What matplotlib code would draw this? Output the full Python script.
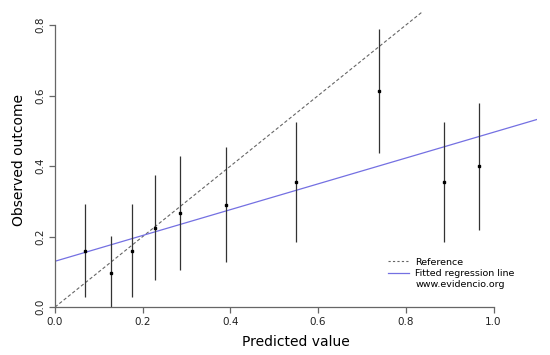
import matplotlib
matplotlib.use("Agg")
import matplotlib.pyplot as plt
import numpy as np
from matplotlib.lines import Line2D

# grouped calibration data
predicted = [0.068, 0.128, 0.175, 0.229, 0.285, 0.390, 0.549, 0.739, 0.886, 0.967]
observed = [0.160, 0.096, 0.160, 0.225, 0.266, 0.289, 0.355, 0.614, 0.355, 0.400]
ci_low = [0.028, 0.000, 0.028, 0.076, 0.105, 0.127, 0.184, 0.438, 0.184, 0.220]
ci_high = [0.293, 0.201, 0.293, 0.374, 0.429, 0.454, 0.525, 0.788, 0.525, 0.578]

# fitted regression line
intercept = 0.130
slope = 0.366

x_ticks = [0.0, 0.2, 0.4, 0.6, 0.8, 1.0]
y_ticks = [0.0, 0.2, 0.4, 0.6, 0.8]

fig = plt.figure(figsize=(5.5, 3.55), dpi=100)
ax = fig.add_axes([0.1, 0.135, 0.877, 0.831])

ax.set_xlim(0, 1.1)
ax.set_ylim(0, 0.837)

# reference line y = x
ref = np.array([0, 1.1])
ax.plot(ref, ref, linestyle=(0, (3, 2)), color="#666666", linewidth=0.8)

# fitted line
ax.plot(ref, intercept + slope * ref, color="#7470e2", linewidth=0.9)

# error bars and points
ax.vlines(predicted, ci_low, ci_high, color="#333333", linewidth=0.9)
ax.plot(predicted, observed, "s", color="black", markersize=1.7)

# R-like axes
for side in ["top", "right"]:
    ax.spines[side].set_visible(False)
ax.spines["left"].set_bounds(0, 0.8)
ax.spines["bottom"].set_bounds(0, 1.0)
for side in ["left", "bottom"]:
    ax.spines[side].set_color("#666666")
    ax.spines[side].set_linewidth(0.9)

ax.set_xticks(x_ticks)
ax.set_xticklabels([f"{v:.1f}" for v in x_ticks])
ax.set_yticks(y_ticks)
ax.set_yticklabels([f"{v:.1f}" for v in y_ticks], rotation=90, va="center")
ax.tick_params(direction="out", length=4, width=0.9, color="#666666",
               labelsize=7.5, labelcolor="#222222", pad=3)

ax.set_xlabel("Predicted value", fontsize=10, labelpad=6)
ax.set_ylabel("Observed outcome", fontsize=10, labelpad=7)

handles = [
    Line2D([], [], linestyle=(0, (2, 2)), color="#666666", linewidth=0.8),
    Line2D([], [], color="#7470e2", linewidth=0.9),
    Line2D([], [], linestyle="none"),
]
labels = ["Reference", "Fitted regression line", "www.evidencio.org"]
ax.legend(handles, labels, loc="upper left", bbox_to_anchor=(0.69, 0.168),
          frameon=False, fontsize=6.8, handlelength=2.2, handletextpad=0.7,
          labelspacing=0.25, borderpad=0, borderaxespad=0)

fig.savefig("out.png", dpi=100)
